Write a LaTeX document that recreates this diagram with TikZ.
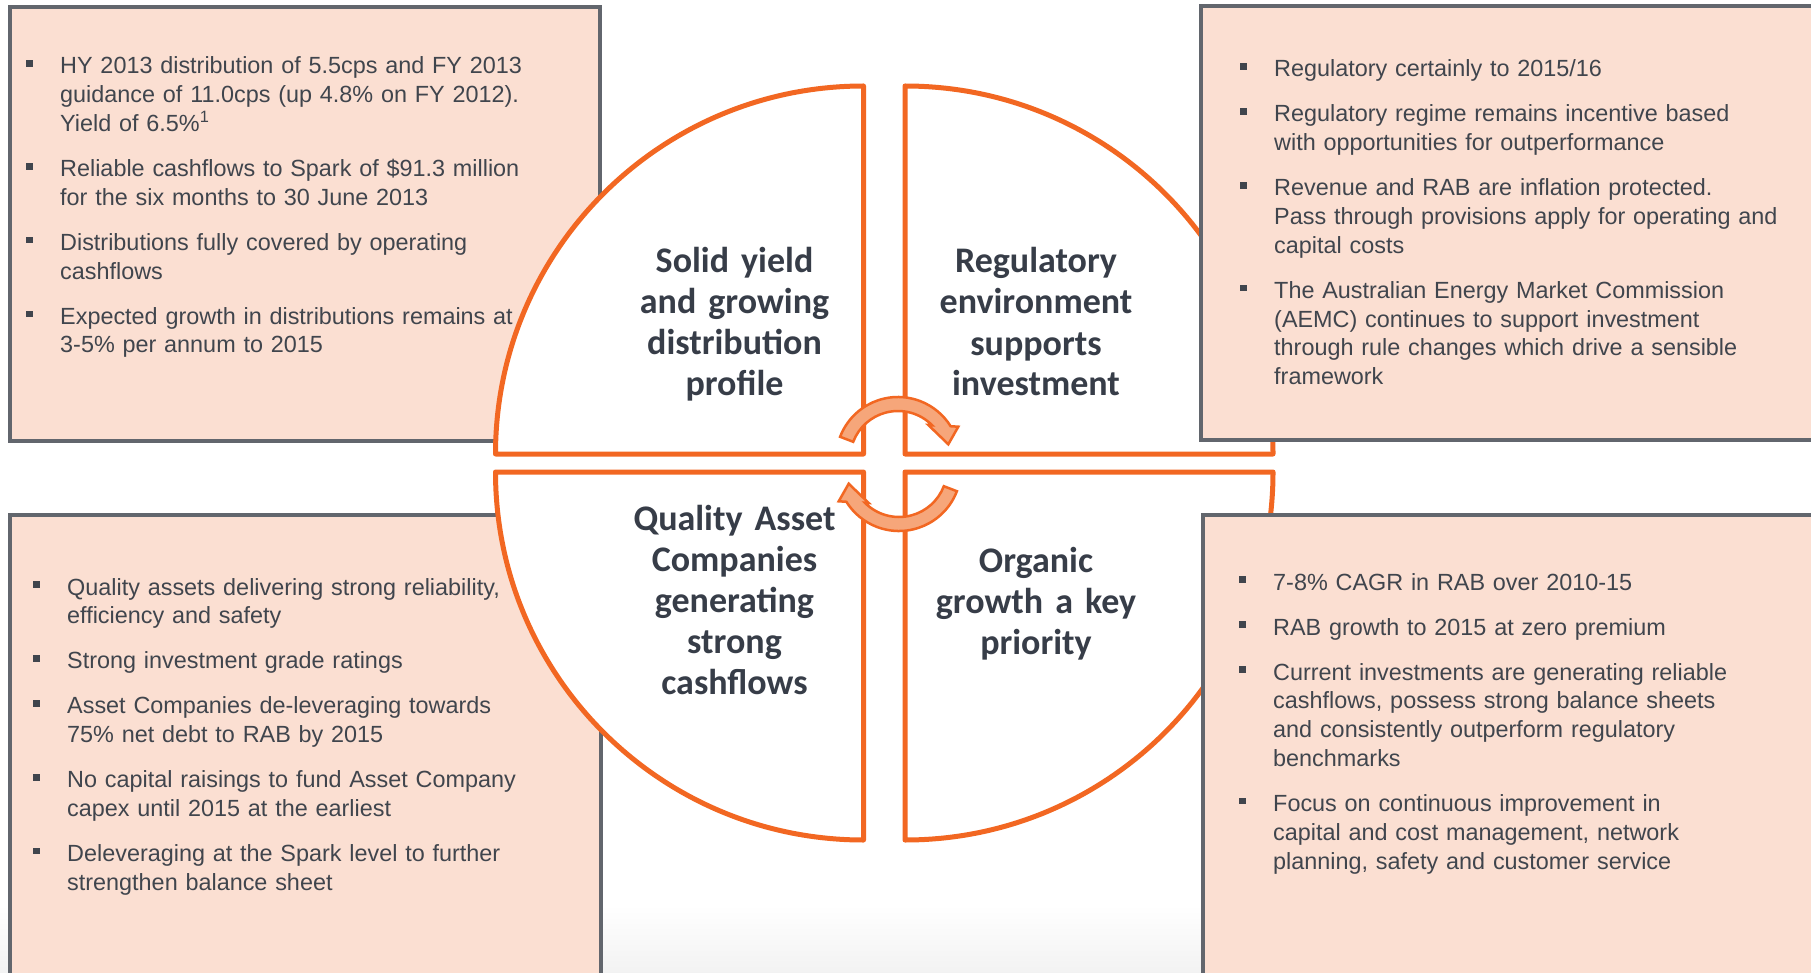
\documentclass[tikz,border=0pt]{standalone}
\usepackage{fontspec}
\setmainfont{Liberation Sans}
\newfontfamily\headfont{Carlito}
\definecolor{peach}{RGB}{251,223,210}
\definecolor{boxline}{RGB}{98,102,109}
\definecolor{orng}{RGB}{242,103,34}
\definecolor{arrfill}{RGB}{246,166,122}
\definecolor{txt}{RGB}{64,69,77}
\definecolor{headtxt}{RGB}{55,61,72}
\newcommand\bsq{\rule[0.3em]{0.28em}{0.28em}}
\newcommand\bitem[1]{\leftskip=34pt\noindent\llap{\makebox[34pt][l]{\bsq}}#1\par}
\newcommand\bgap{\vspace{16.2pt}}
\begin{document}
\begin{tikzpicture}[x=1pt,y=-1pt,
  infobox/.style={fill=peach, draw=boxline, line width=3.5pt},
  quad/.style={fill=white, draw=orng, line width=5pt, line join=round},
  cyclearrow/.style={fill=arrfill, draw=orng, line width=2.5pt, line join=miter},
  boxtext/.style={anchor=base west, inner sep=0pt, text width=700pt, align=left, font=\fontsize{23.4}{28.8}\selectfont, text=txt},
  headtext/.style={anchor=base, inner sep=0pt, text width=330pt, align=center, font=\headfont\bfseries\fontsize{36}{41}\selectfont, text=headtxt}]
\path[use as bounding box] (0,0) rectangle (1811,973);
\begin{scope}
\clip (0,0) rectangle (1811,973);
\fill[white] (0,0) rectangle (1811,973);
\shade[top color=white, bottom color=black!5] (0,905) rectangle (1811,973);
% left boxes (under the circle)
\draw[infobox] (10,7) rectangle (600,441);
\draw[infobox] (10,515) rectangle (601,1000);
% quadrants
\coordinate (TLc) at (863.5,454);
\coordinate (TRc) at (905,454);
\coordinate (BLc) at (863.5,472);
\coordinate (BRc) at (905,472);
\draw[quad] (TLc) -- ++(-368,0) arc[start angle=180,end angle=270,radius=368] -- cycle;
\draw[quad] (TRc) -- ++(0,-368) arc[start angle=270,end angle=360,radius=368] -- cycle;
\draw[quad] (BRc) -- ++(368,0) arc[start angle=0,end angle=90,radius=368] -- cycle;
\draw[quad] (BLc) -- ++(0,368) arc[start angle=90,end angle=180,radius=368] -- cycle;
% right boxes (over the circle)
\draw[infobox] (1201,6) rectangle (1840,440);
\draw[infobox] (1203,515) rectangle (1840,1000);
% cycle arrows
\coordinate (U) at (898,459);
\coordinate (L) at (899,469);
\draw[cyclearrow] ([shift={(-159:48)}]U) -- ([shift={(-159:62)}]U)
  arc[start angle=-159,end angle=-31.9,radius=62]
  -- ([shift={(60.3,-32.3)}]U) -- ([shift={(50.3,-14.7)}]U) -- ([shift={(30.3,-34)}]U)
  -- ([shift={(-44.7:48)}]U) arc[start angle=-44.7,end angle=-159,radius=48] -- cycle;
\draw[cyclearrow] ([shift={(21:48)}]L) -- ([shift={(21:62)}]L)
  arc[start angle=21,end angle=148.1,radius=62]
  -- ([shift={(-60.3,32.3)}]L) -- ([shift={(-50.3,14.7)}]L) -- ([shift={(-30.3,34)}]L)
  -- ([shift={(135.3:48)}]L) arc[start angle=135.3,end angle=21,radius=48] -- cycle;
% headings
\node[headtext] (h1) at (734.5,272.5) {Solid yield\\and growing\\distribution\\profile};
\node[headtext] (h2) at (1036,273) {Regulatory\\environment\\supports\\investment};
\node[headtext] (h3) at (734.5,530) {Quality Asset\\Companies\\generating\\strong\\cashflows};
\node[headtext] (h4) at (1036,572.6) {Organic\\growth a key\\priority};
% box texts
\node[boxtext] (t1) at (26,74) {%
\bitem{HY 2013 distribution of 5.5cps and FY 2013\newline guidance of 11.0cps (up 4.8\% on FY 2012).\newline Yield of 6.5\%\textsuperscript{1}}\bgap
\bitem{Reliable cashflows to Spark of \$91.3 million\newline for the six months to 30 June 2013}\bgap
\bitem{Distributions fully covered by operating\newline cashflows}\bgap
\bitem{Expected growth in distributions remains at\newline 3-5\% per annum to 2015}};
\node[boxtext] (t2) at (1240,77) {%
\bitem{Regulatory certainly to 2015/16}\bgap
\bitem{Regulatory regime remains incentive based\newline with opportunities for outperformance}\bgap
\bitem{Revenue and RAB are inflation protected.\newline Pass through provisions apply for operating and\newline capital costs}\bgap
\bitem{The Australian Energy Market Commission\newline (AEMC) continues to support investment\newline through rule changes which drive a sensible\newline framework}};
\node[boxtext] (t3) at (33,595) {%
\bitem{Quality assets delivering strong reliability,\newline efficiency and safety}\bgap
\bitem{Strong investment grade ratings}\bgap
\bitem{Asset Companies de-leveraging towards\newline 75\% net debt to RAB by 2015}\bgap
\bitem{No capital raisings to fund Asset Company\newline capex until 2015 at the earliest}\bgap
\bitem{Deleveraging at the Spark level to further\newline strengthen balance sheet}};
\node[boxtext] (t4) at (1239,590) {%
\bitem{7-8\% CAGR in RAB over 2010-15}\bgap
\bitem{RAB growth to 2015 at zero premium}\bgap
\bitem{Current investments are generating reliable\newline cashflows, possess strong balance sheets\newline and consistently outperform regulatory\newline benchmarks}\bgap
\bitem{Focus on continuous improvement in\newline capital and cost management, network\newline planning, safety and customer service}};
\end{scope}
\end{tikzpicture}
\end{document}
